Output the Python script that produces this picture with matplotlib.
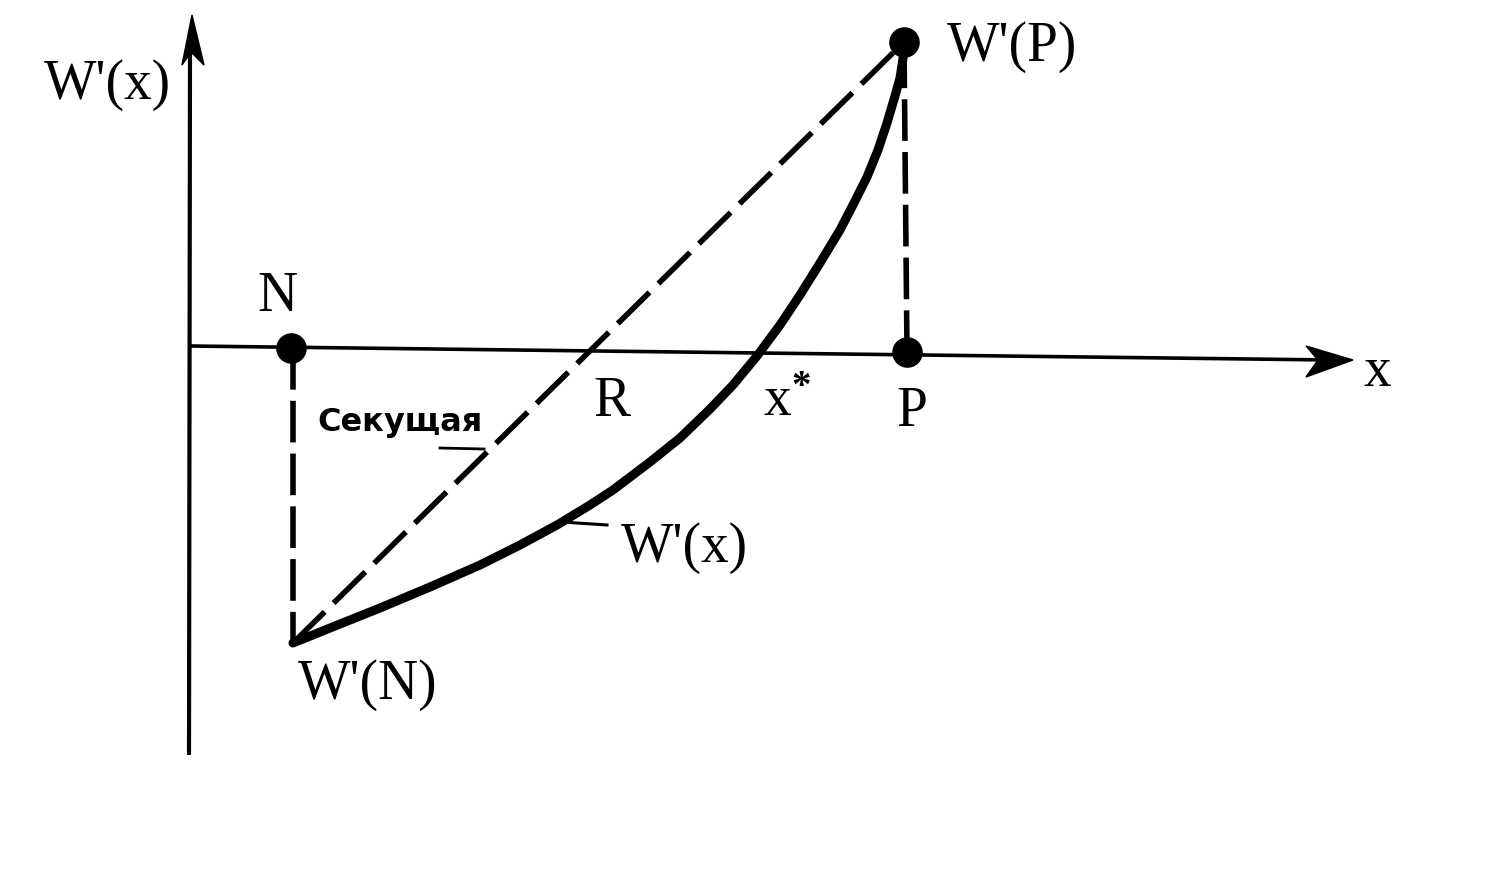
import matplotlib
matplotlib.use("Agg")
import matplotlib.pyplot as plt
from matplotlib.patches import Polygon

# ---- diagram data (units: x = horizontal position, y = value of W'(x); x-axis at y = 0) ----
curve_x = [293, 335, 380, 430, 480, 520, 557, 590, 613, 650, 680, 710, 733, 757,
           780, 800, 820, 840, 855, 867, 878, 887, 895, 900, 904]
curve_y = [-295, -278, -260, -239, -217, -197, -177, -157, -142, -114, -90, -61, -37, -8,
           23, 53, 85, 118, 147, 171, 198, 225, 252, 270, 296]

N_x, N_y = 291, 0
P_x, P_y = 907, -4
WN_x, WN_y = 293, -295
WP_x, WP_y = 904, 306

secant_x = [WN_x, WP_x]
secant_y = [WN_y, WP_y]

yaxis_x = [189, 190]
yaxis_y = [-407, 300]
xaxis_x = [190, 1330]
xaxis_y = [2, -12]

labels = {
    "W'(x)_axis": (107, 263),
    "W'(P)": (1012, 301),
    "N": (277, 51),
    "R": (612, -54),
    "P": (912, -64),
    "x": (1377, -24),
    "W'(N)": (368, -337),
    "W'(x)": (684, -200),
}

serif = ["Liberation Serif", "DejaVu Serif"]
plt.rcParams["lines.scale_dashes"] = False
plt.rcParams["mathtext.fontset"] = "custom"
plt.rcParams["mathtext.rm"] = "Liberation Serif"
plt.rcParams["mathtext.it"] = "Liberation Serif"
plt.rcParams["mathtext.bf"] = "Liberation Serif:bold"

fig = plt.figure(figsize=(15.01, 8.71), dpi=100)
ax = fig.add_axes([0, 0, 1, 1])
ax.set_xlim(0, 1501)
ax.set_ylim(348 - 871, 348)
ax.axis("off")

# axes
ax.plot(yaxis_x, yaxis_y, color="black", lw=3.0, solid_capstyle="butt")
ax.plot(xaxis_x, xaxis_y, color="black", lw=2.6, solid_capstyle="butt")

# arrowheads (stealth style)
ax.add_patch(Polygon([(192, 333), (182, 283), (191, 296), (204, 283)], closed=True,
                     color="black", lw=1))
ax.add_patch(Polygon([(1353, -12), (1306, 2), (1318, -12), (1306, -29)], closed=True,
                     color="black", lw=1))

# dashed lines
ax.plot(secant_x, secant_y, color="black", lw=4.0, dashes=(32, 9), dash_capstyle="butt")
ax.plot([N_x + 2, WN_x], [N_y, WN_y], color="black", lw=4.0, dashes=(30, 8),
        dash_capstyle="butt")
ax.plot([P_x, WP_x], [P_y, WP_y], color="black", lw=4.0, dashes=(30, 8),
        dash_capstyle="butt")

# curve W'(x)
ax.plot(curve_x, curve_y, color="black", lw=6.5, solid_capstyle="round",
        solid_joinstyle="round")

# points
ax.plot([N_x, P_x, WP_x], [N_y, P_y, WP_y], "o", color="black", ms=21)

# leaders
ax.plot([440, 484], [-100, -101], color="black", lw=2.0)
ax.plot([562, 607], [-174, -177], color="black", lw=2.2)

fs = 40
for txt, key in [("W'(x)", "W'(x)_axis"), ("W'(P)", "W'(P)"), ("N", "N"), ("R", "R"),
                 ("P", "P"), ("x", "x"), ("W'(N)", "W'(N)"), ("W'(x)", "W'(x)")]:
    x, y = labels[key]
    ax.text(x, y, txt, fontsize=fs, family=serif, ha="center", va="center")

# x*
ax.text(763, -54, r"x$^{\mathbf{*}}$", fontsize=fs, family=serif, ha="left", va="center")

# Секущая
ax.text(400, -74, "Секущая", fontsize=23, family=["DejaVu Sans"],
        weight="bold", ha="center", va="center")

fig.savefig("out.png", dpi=100, facecolor="white")
